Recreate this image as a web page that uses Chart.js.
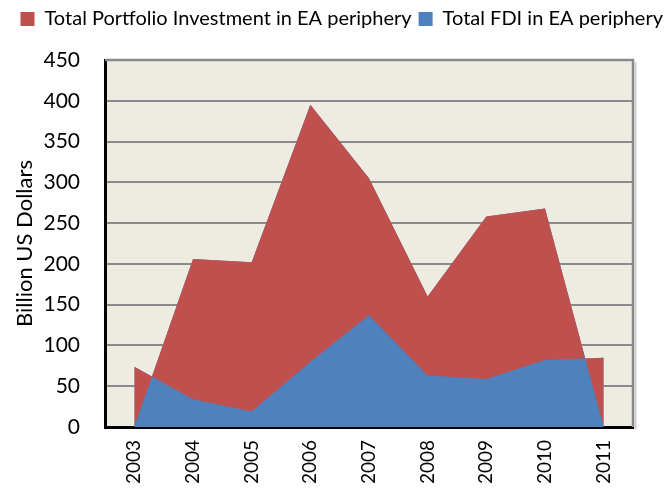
<!DOCTYPE html>
<html><head><meta charset="utf-8">
<script src="https://cdn.jsdelivr.net/npm/chart.js@4.4.1/dist/chart.umd.min.js"></script>
<style>html,body{margin:0;padding:0;background:#fff}#wrap{width:670px;height:490px}</style>
</head><body><div id="wrap"><canvas id="c" width="670" height="490"></canvas></div>
<script>
const years = ['2003','2004','2005','2006','2007','2008','2009','2010','2011'];
const portfolio = [0, 206, 202, 395, 305, 160, 258, 268, 0];
const fdi = [74, 34, 19, 80, 137, 63, 59, 82, 85];
const yMin = 0, yMax = 450, yStep = 50;
const seriesNames = ['Total Portfolio Investment in EA periphery', 'Total FDI in EA periphery'];

const RED = '#C0504D', BLUE = '#4F81BD', PLOT_BG = '#EEECE1', GRID = '#8a8a8a';
const FONT = 'Lato, "Open Sans", sans-serif';

const bgPlugin = {
  id: 'bg',
  beforeDraw(chart) {
    const {ctx, chartArea: a} = chart;
    ctx.save();
    ctx.fillStyle = '#fff';
    ctx.fillRect(0, 0, chart.width, chart.height);
    ctx.fillStyle = PLOT_BG;
    ctx.fillRect(a.left, a.top, a.right - a.left, a.bottom - a.top);
    ctx.restore();
  },
  afterDraw(chart) {
    const {ctx, chartArea: a} = chart;
    ctx.save();
    ctx.strokeStyle = '#cfcfcf';
    ctx.lineWidth = 2;
    ctx.beginPath();
    ctx.moveTo(a.right + 2.5, a.top + 2);
    ctx.lineTo(a.right + 2.5, a.bottom + 2);
    ctx.stroke();
    ctx.strokeStyle = GRID;
    ctx.lineWidth = 2.5;
    ctx.beginPath();
    ctx.moveTo(a.left, a.top);
    ctx.lineTo(a.right, a.top);
    ctx.lineTo(a.right, a.bottom);
    ctx.stroke();
    ctx.restore();
  }
};

new Chart(document.getElementById('c'), {
  type: 'line',
  data: {
    labels: years,
    datasets: [
      {
        label: seriesNames[0], data: portfolio,
        backgroundColor: RED, borderColor: 'rgba(0,0,0,0)', borderWidth: 0,
        pointRadius: 0, tension: 0,
        fill: {target: 1, above: RED, below: RED}
      },
      {
        label: seriesNames[1], data: fdi,
        backgroundColor: BLUE, borderColor: 'rgba(0,0,0,0)', borderWidth: 0,
        pointRadius: 0, tension: 0, fill: 'origin'
      },
      {
        label: 'base', data: portfolio,
        backgroundColor: BLUE, borderColor: 'rgba(0,0,0,0)', borderWidth: 0,
        pointRadius: 0, tension: 0, fill: 'origin'
      }
    ]
  },
  options: {
    responsive: false, animation: false, devicePixelRatio: 1,
    layout: {padding: {top: 2, left: 0, right: 0, bottom: 0}},
    plugins: {
      legend: {
        position: 'top', align: 'end',
        labels: {
          filter: (item) => item.datasetIndex < 2,
          boxWidth: 14, boxHeight: 14, padding: 7, color: '#000',
          font: {family: FONT, size: 20}
        }
      },
      subtitle: {display: true, text: '', weight: 500, padding: {top: 11, bottom: 0}, font: {size: 10, lineHeight: 1}},
      tooltip: {enabled: false}
    },
    scales: {
      x: {
        offset: true,
        grid: {display: false, drawTicks: false},
        border: {color: '#000', width: 3},
        ticks: {minRotation: 90, maxRotation: 90, padding: 13, color: '#000', font: {family: FONT, size: 19}},
        afterFit: (s) => { s.height = 63; }
      },
      y: {
        min: yMin, max: yMax,
        ticks: {stepSize: yStep, padding: 25, color: '#000', font: {family: FONT, size: 21}},
        grid: {color: GRID, lineWidth: 2, drawTicks: false},
        border: {color: '#000', width: 3},
        title: {display: true, text: 'Billion US Dollars', color: '#000', font: {family: FONT, size: 22}, padding: {top: 12, bottom: 0}},
        afterFit: (s) => { s.width = 105; }
      },
      y2: {
        position: 'right', display: true,
        grid: {display: false, drawTicks: false}, border: {display: false},
        ticks: {display: false},
        afterFit: (s) => { s.width = 37; }
      }
    }
  },
  plugins: [bgPlugin]
});
</script>
</body></html>
